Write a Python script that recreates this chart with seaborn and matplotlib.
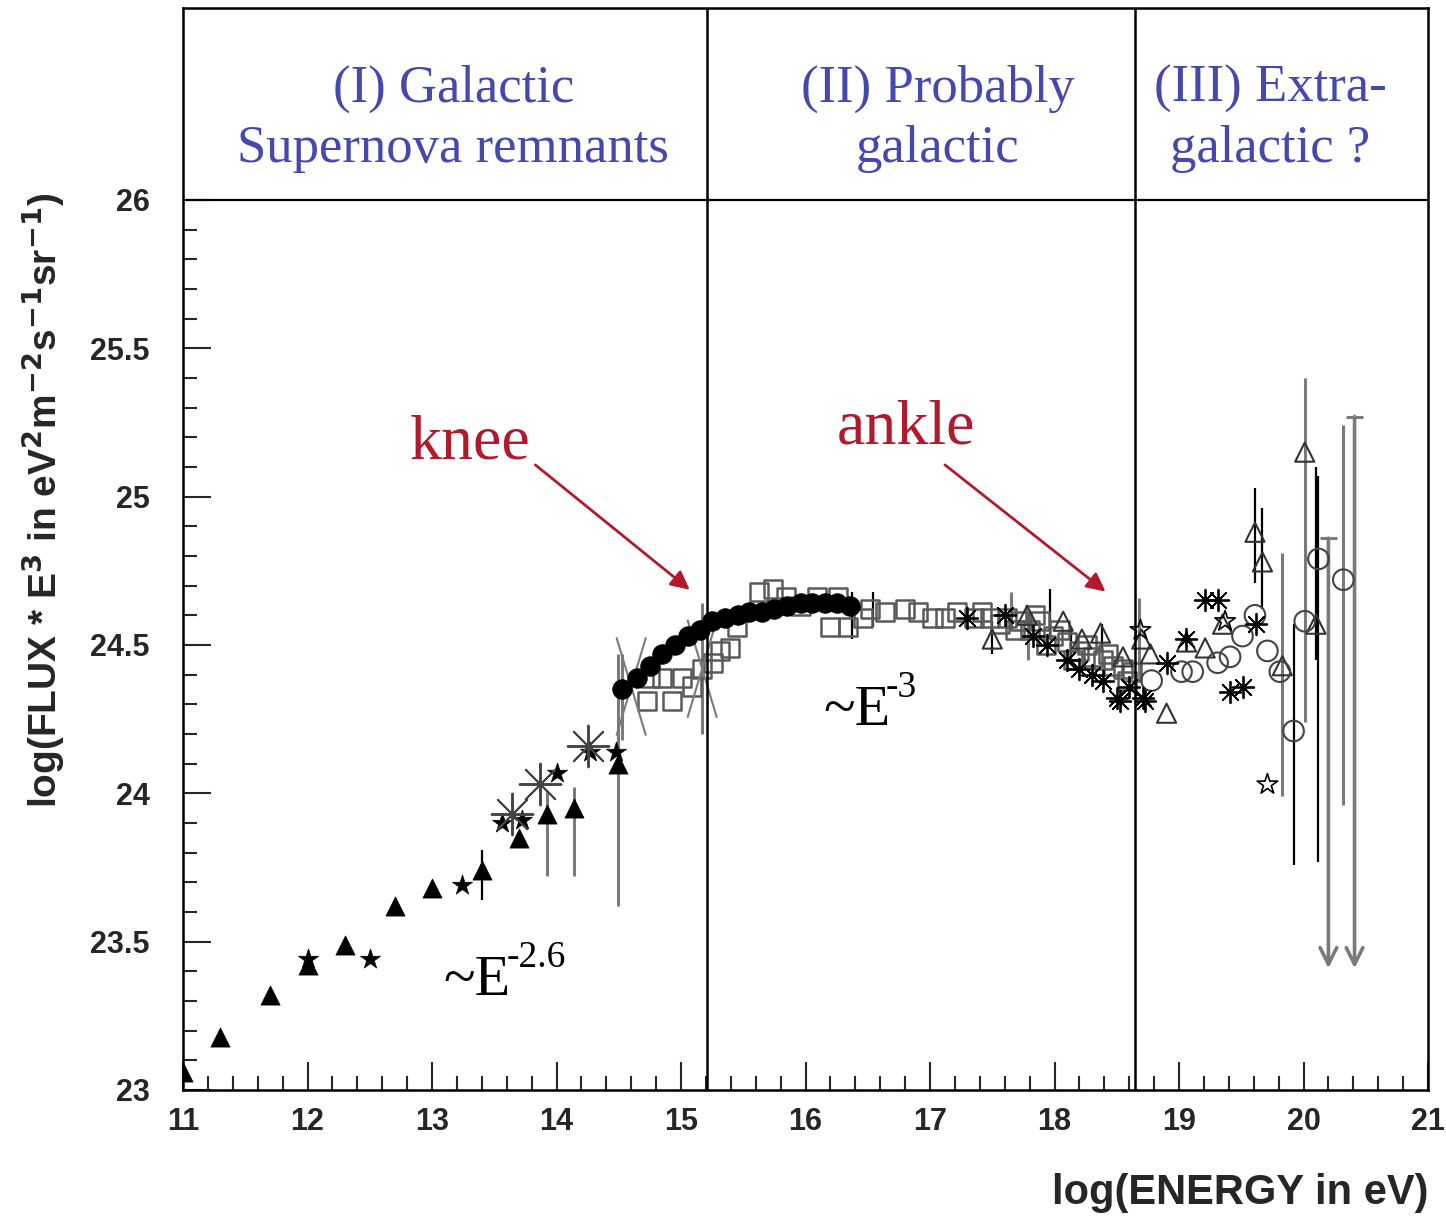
import numpy as np
import matplotlib
matplotlib.use("Agg")
import matplotlib.pyplot as plt
from matplotlib.path import Path
from matplotlib.ticker import FixedLocator
import seaborn as sns

# ---- data (log10 E [eV], log10 flux*E^3) ----
tri_x = [11.0, 11.3, 11.7, 12.0, 12.3, 12.7, 13.0, 13.4, 13.7, 13.92, 14.14, 14.49]
tri_y = [23.06, 23.18, 23.32, 23.42, 23.49, 23.62, 23.68, 23.74, 23.85, 23.93, 23.95, 24.10]

star_x = [12.0, 12.5, 13.24, 13.56, 13.72, 14.0, 14.27, 14.48]
star_y = [23.44, 23.44, 23.69, 23.90, 23.91, 24.07, 24.14, 24.14]

big_ast_x = [13.64, 13.87, 14.25]
big_ast_y = [23.93, 24.03, 24.16]

big_cross_x = [14.6, 15.17]
big_cross_y = [24.36, 24.42]

dot_x = [14.53, 14.65, 14.75, 14.85, 14.95, 15.06, 15.15, 15.25, 15.35, 15.46,
         15.55, 15.65, 15.75, 15.85, 15.96, 16.05, 16.16, 16.25, 16.36]
dot_y = [24.35, 24.39, 24.43, 24.47, 24.50, 24.53, 24.55, 24.58, 24.59, 24.60,
         24.61, 24.61, 24.62, 24.63, 24.64, 24.64, 24.64, 24.64, 24.63]

sq_x = [14.73, 14.75, 14.85, 14.93, 15.01, 15.09, 15.17, 15.26, 15.31, 15.39,
        15.45, 15.63, 15.74, 15.84, 15.96, 16.09, 16.20, 16.26, 16.34, 16.46,
        16.52, 16.64, 16.80, 16.90, 17.02, 17.12, 17.22, 17.35, 17.48, 17.62,
        17.72, 17.80, 17.88, 17.99, 18.10, 18.20, 18.31, 18.39, 18.47, 18.55, 18.62,
        17.42, 17.56, 17.68, 17.84, 17.93, 18.04, 18.15, 18.26, 18.43, 18.58]
sq_y = [24.31, 24.39, 24.39, 24.31, 24.39, 24.36, 24.42, 24.44, 24.48, 24.49,
        24.56, 24.68, 24.69, 24.66, 24.63, 24.66, 24.56, 24.66, 24.56, 24.59,
        24.62, 24.61, 24.62, 24.61, 24.59, 24.59, 24.61, 24.59, 24.59, 24.59,
        24.58, 24.55, 24.58, 24.53, 24.51, 24.48, 24.46, 24.45, 24.43, 24.42, 24.41,
        24.61, 24.57, 24.55, 24.60, 24.50, 24.55, 24.45, 24.50, 24.47, 24.38]

otri_x = [17.50, 17.78, 18.07, 18.22, 18.37, 18.55, 18.70, 18.77, 18.90, 19.06,
          19.21, 19.35, 19.61, 19.67, 19.83, 20.01, 20.10]
otri_y = [24.52, 24.60, 24.58, 24.52, 24.54, 24.46, 24.52, 24.47, 24.27, 24.51,
          24.49, 24.57, 24.88, 24.78, 24.43, 25.15, 24.57]

ocirc_x = [18.78, 19.02, 19.11, 19.31, 19.41, 19.51, 19.61, 19.71, 19.81,
           19.92, 20.01, 20.12, 20.32]
ocirc_y = [24.38, 24.41, 24.41, 24.44, 24.46, 24.53, 24.60, 24.48, 24.41,
           24.21, 24.58, 24.79, 24.72]

ast_x = [17.30, 17.60, 17.83, 17.94, 18.10, 18.20, 18.30, 18.39, 18.50, 18.53,
         18.60, 18.71, 18.73, 18.90, 19.06, 19.21, 19.31, 19.41, 19.51, 19.62]
ast_y = [24.59, 24.60, 24.53, 24.50, 24.45, 24.42, 24.40, 24.38, 24.32, 24.31,
         24.36, 24.32, 24.31, 24.44, 24.52, 24.65, 24.65, 24.34, 24.36, 24.57]

ostar_x = [18.69, 19.37, 19.71]
ostar_y = [24.55, 24.58, 24.03]

# vertical error bars: x, low, high
err_black_x = [13.40, 16.37, 16.54, 17.50, 17.96, 18.13, 18.38, 19.61, 19.67,
               19.92, 20.10, 20.12]
err_black_lo = [23.64, 24.52, 24.56, 24.47, 24.52, 24.44, 24.48, 24.71, 24.62,
                23.76, 24.45, 23.77]
err_black_hi = [23.81, 24.68, 24.68, 24.58, 24.69, 24.56, 24.57, 25.03, 24.96,
                24.57, 25.10, 25.07]

err_grey_x = [13.92, 14.14, 14.49, 14.53, 15.17, 17.65, 17.79, 18.68, 19.83, 20.01, 20.32]
err_grey_lo = [23.72, 23.72, 23.62, 24.18, 24.20, 24.56, 24.45, 24.38, 23.99, 24.24, 23.96]
err_grey_hi = [24.01, 24.02, 24.47, 24.47, 24.64, 24.68, 24.61, 24.66, 24.81, 25.40, 25.24]

# upper limits drawn as down arrows
lim_x = [20.20, 20.41]
lim_top = [24.86, 25.27]
lim_bottom = [23.41, 23.41]

region_edges = [15.21, 18.65]
region_labels = ["(I) Galactic\nSupernova remnants", "(II) Probably\ngalactic",
                 "(III) Extra-\ngalactic ?"]
region_centers = [13.17, 17.06, 19.73]

x_ticks = list(range(11, 22))
y_ticks = [23, 23.5, 24, 24.5, 25, 25.5, 26]
y_tick_labels = ["23", "23.5", "24", "24.5", "25", "25.5", "26"]

# ---- style ----
sns.set_style("ticks")
sans = ["Liberation Sans Narrow", "Liberation Sans", "DejaVu Sans"]
serif = ["Liberation Serif", "DejaVu Serif"]
plt.rcParams["font.family"] = sans
blue = "#4549AE"
red = "#B01A2C"
grey = "#7a7a7a"

fig = plt.figure(figsize=(14.46, 12.17), dpi=100)
ax = fig.add_axes([0.12656, 0.10436, 0.86100, 0.88907])

# error bars first, markers on top
ax.vlines(err_grey_x, err_grey_lo, err_grey_hi, colors=grey, lw=2.2, zorder=2)
ax.vlines(err_black_x, err_black_lo, err_black_hi, colors="black", lw=1.6, zorder=2)
for x, top, bot in zip(lim_x, lim_top, lim_bottom):
    ax.annotate("", xy=(x, bot), xytext=(x, top),
                arrowprops=dict(arrowstyle="->", color=grey, lw=2.6,
                                mutation_scale=30, shrinkA=0, shrinkB=0), zorder=2)
ax.hlines(lim_top, [x - 0.07 for x in lim_x], [x + 0.07 for x in lim_x],
          colors=grey, lw=2.2, zorder=2)

cross_marker = Path([(-0.3, -1), (0.3, 1), (0.3, -1), (-0.3, 1)],
                    [Path.MOVETO, Path.LINETO, Path.MOVETO, Path.LINETO])

sns.scatterplot(x=sq_x, y=sq_y, ax=ax, marker="s", s=170, facecolor="none",
                edgecolor="#5a5a5a", linewidth=1.8, zorder=3)
sns.scatterplot(x=big_cross_x, y=big_cross_y, ax=ax, marker=cross_marker, s=5000,
                facecolor="none", edgecolor=grey, linewidth=1.5, zorder=3)
sns.scatterplot(x=tri_x, y=tri_y, ax=ax, marker="^", s=190, color="black",
                edgecolor="black", linewidth=0.5, zorder=4)
sns.scatterplot(x=star_x, y=star_y, ax=ax, marker="*", s=230, color="black",
                edgecolor="black", linewidth=0.5, zorder=4)
sns.scatterplot(x=big_ast_x, y=big_ast_y, ax=ax, marker=(8, 2, 0), s=900,
                color="#444444", linewidth=1.4, zorder=4)
sns.scatterplot(x=dot_x, y=dot_y, ax=ax, marker="o", s=200, color="black",
                edgecolor="black", linewidth=0.5, zorder=5)
sns.scatterplot(x=otri_x, y=otri_y, ax=ax, marker="^", s=190, facecolor="none",
                edgecolor="#333333", linewidth=1.5, zorder=4)
sns.scatterplot(x=ocirc_x, y=ocirc_y, ax=ax, marker="o", s=220, facecolor="none",
                edgecolor="#444444", linewidth=1.5, zorder=4)
sns.scatterplot(x=ast_x, y=ast_y, ax=ax, marker=(8, 2, 0), s=240,
                color="black", linewidth=1.3, zorder=4)
sns.scatterplot(x=ostar_x, y=ostar_y, ax=ax, marker="*", s=240, facecolor="none",
                edgecolor="black", linewidth=1.2, zorder=4)

# frame, region separators, header band
ax.set_xlim(11, 21)
ax.set_ylim(23, 26.647)
for x in region_edges:
    ax.axvline(x, color="black", lw=1.8, zorder=6)
ax.axhline(26, color="black", lw=1.6, zorder=6)
for sp in ax.spines.values():
    sp.set_visible(True)
    sp.set_linewidth(1.8)
    sp.set_color("black")

for c, lab in zip(region_centers, region_labels):
    ax.text(c, 26.272, lab, ha="center", va="center", fontsize=38, color=blue,
            family=serif, linespacing=1.32)

# annotations
ax.text(13.31, 25.13, "knee", ha="center", va="baseline", fontsize=46, color=red,
        family=serif)
ax.annotate("", xy=(15.07, 24.686), xytext=(13.83, 25.107),
            arrowprops=dict(arrowstyle="-|>", color=red, lw=2, mutation_scale=28,
                            shrinkA=0, shrinkB=0))
ax.text(16.81, 25.18, "ankle", ha="center", va="baseline", fontsize=46, color=red,
        family=serif)
ax.annotate("", xy=(18.41, 24.68), xytext=(17.12, 25.107),
            arrowprops=dict(arrowstyle="-|>", color=red, lw=2, mutation_scale=28,
                            shrinkA=0, shrinkB=0))

slope_labels = [("-2.6", 13.09, 23.32), ("-3", 16.14, 24.23)]
for sup, x, y in slope_labels:
    base = ax.text(x, y, "~E", ha="left", va="baseline", fontsize=42, color="black",
                   family=serif)
    ax.annotate(sup, xy=(1.0, 0.62), xycoords=base, xytext=(-3, 0),
                textcoords="offset points", ha="left", va="bottom", fontsize=27,
                color="black", family=serif)

# ticks
ax.xaxis.set_major_locator(FixedLocator(x_ticks))
ax.xaxis.set_minor_locator(FixedLocator(np.arange(11, 21.01, 0.2)))
ax.yaxis.set_major_locator(FixedLocator(y_ticks))
ax.yaxis.set_minor_locator(FixedLocator(np.arange(23, 26.01, 0.1)))
ax.set_xticklabels([str(t) for t in x_ticks])
ax.set_yticklabels(y_tick_labels)
ax.tick_params(axis="both", which="major", direction="in", length=20, width=1.5,
               labelsize=22, top=False, right=False)
ax.tick_params(axis="both", which="minor", direction="in", length=10, width=1.5,
               top=False, right=False)
ax.tick_params(axis="x", which="major", pad=12)
ax.tick_params(axis="y", which="major", pad=24)
for lab in ax.get_xticklabels() + ax.get_yticklabels():
    lab.set_fontweight("bold")

ax.set_ylabel(r"log(FLUX * E$^{\mathbf{3}}$ in eV$^{\mathbf{2}}$m$^{\mathbf{-2}}$s$^{\mathbf{-1}}$sr$^{\mathbf{-1}}$)",
              fontsize=28, fontweight="bold")
ax.yaxis.set_label_coords(-0.093, 0.545)
ax.set_xlabel("log(ENERGY in eV)", fontsize=30, fontweight="bold", loc="right",
              labelpad=26)

fig.savefig("out.png", dpi=100)
